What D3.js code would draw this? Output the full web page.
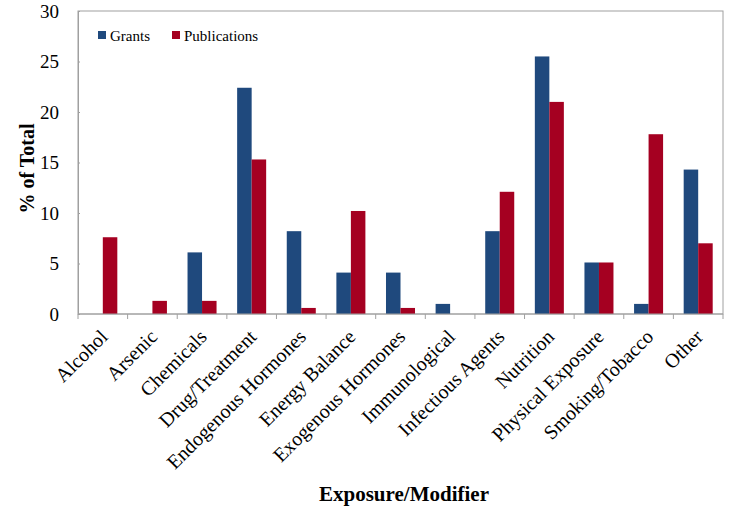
<!DOCTYPE html>
<html>
<head>
<meta charset="utf-8">
<script src="https://cdn.jsdelivr.net/npm/d3@7"></script>
<style>
  body { margin: 0; background: #fff; }
  text { font-family: "Liberation Serif", "Times New Roman", serif; }
</style>
</head>
<body>
<div id="chart"></div>
<script>
const categories = ["Alcohol", "Arsenic", "Chemicals", "Drug/Treatment", "Endogenous Hormones",
  "Energy Balance", "Exogenous Hormones", "Immunological", "Infectious Agents", "Nutrition",
  "Physical Exposure", "Smoking/Tobacco", "Other"];
const grants = [0, 0, 6.1, 22.4, 8.2, 4.1, 4.1, 1.0, 8.2, 25.5, 5.1, 1.0, 14.3];
const publications = [7.6, 1.3, 1.3, 15.3, 0.6, 10.2, 0.6, 0, 12.1, 21.0, 5.1, 17.8, 7.0];
const seriesNames = ["Grants", "Publications"];
const colors = ["#1f497d", "#a50021"];
const yTicks = [0, 5, 10, 15, 20, 25, 30];

const width = 729, height = 511;
const margin = {top: 11, right: 6, bottom: 197, left: 78};
const w = width - margin.left - margin.right;
const h = height - margin.top - margin.bottom;

const svg = d3.select("#chart").append("svg")
    .attr("width", width)
    .attr("height", height);

const g = svg.append("g")
    .attr("transform", `translate(${margin.left},${margin.top})`);

const x = d3.scaleBand().domain(categories).range([0, w]);
const x1 = d3.scaleBand().domain(seriesNames).range([0, x.bandwidth()]).paddingOuter(0.71).paddingInner(0);
const y = d3.scaleLinear().domain([0, 30]).range([h, 0]);

// plot frame
g.append("rect")
    .attr("width", w).attr("height", h)
    .attr("fill", "none").attr("stroke", "#a0a0a0").attr("stroke-width", 1);

const rows = categories.map((c, i) => ({cat: c, vals: [grants[i], publications[i]]}));

g.selectAll(".grp")
  .data(rows)
  .join("g")
    .attr("class", "grp")
    .attr("transform", d => `translate(${x(d.cat)},0)`)
  .selectAll("rect")
  .data(d => d.vals.map((v, k) => ({name: seriesNames[k], v: v, k: k})))
  .join("rect")
    .attr("x", d => x1(d.name))
    .attr("width", x1.bandwidth())
    .attr("y", d => y(d.v))
    .attr("height", d => h - y(d.v))
    .attr("fill", d => colors[d.k]);

// y axis (small inward ticks like the original)
const yAxis = g.append("g")
    .attr("font-family", null)
    .call(d3.axisLeft(y).tickValues(yTicks).tickSizeInner(-2).tickSizeOuter(0).tickPadding(19));
yAxis.attr("font-family", null);
yAxis.select(".domain").attr("stroke", "#a0a0a0");
yAxis.selectAll(".tick line").attr("stroke", "#a0a0a0");
yAxis.selectAll("text")
    .attr("fill", "#000")
    .style("font-size", "19px")
    .style("font-family", "'Liberation Serif', serif");

// x axis
const xAxis = g.append("g")
    .attr("transform", `translate(0,${h})`);
xAxis.append("line")
    .attr("x1", 0).attr("x2", w)
    .attr("stroke", "#a0a0a0");
xAxis.selectAll(".tk")
  .data(d3.range(categories.length + 1))
  .join("line")
    .attr("class", "tk")
    .attr("x1", i => i * x.bandwidth()).attr("x2", i => i * x.bandwidth())
    .attr("y1", 0).attr("y2", 5)
    .attr("stroke", "#a0a0a0");
xAxis.selectAll(".lbl")
  .data(categories)
  .join("text")
    .attr("class", "lbl")
    .attr("text-anchor", "end")
    .attr("transform", d => `translate(${x(d) + x.bandwidth() / 2 + 6},${24}) rotate(-45)`)
    .style("font-size", "20px")
    .text(d => d);

// axis titles
svg.append("text")
    .attr("transform", `translate(34,${margin.top + h / 2 + 6}) rotate(-90)`)
    .attr("text-anchor", "middle")
    .style("font-size", "20px")
    .style("font-weight", "bold")
    .text("% of Total");

svg.append("text")
    .attr("x", 404).attr("y", 501)
    .attr("text-anchor", "middle")
    .style("font-size", "21px")
    .style("font-weight", "bold")
    .text("Exposure/Modifier");

// legend
const legend = svg.append("g").attr("transform", "translate(98,30)");
const lx = [0, 74];
seriesNames.forEach((s, k) => {
  legend.append("rect")
      .attr("x", lx[k]).attr("y", 1)
      .attr("width", 8).attr("height", 8)
      .attr("fill", colors[k]);
  legend.append("text")
      .attr("x", lx[k] + 12).attr("y", 10.5)
      .style("font-size", "15px")
      .text(s);
});
</script>
</body>
</html>
